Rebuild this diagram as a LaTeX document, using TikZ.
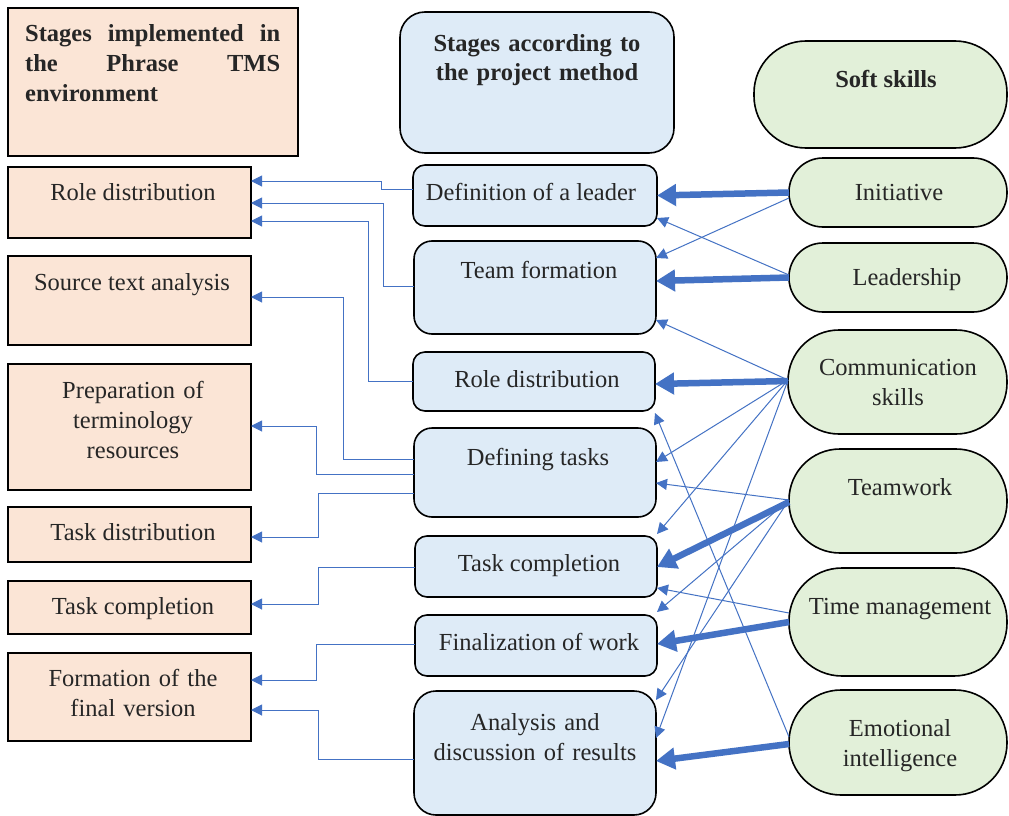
\documentclass[tikz,border=0pt]{standalone}
\usepackage{fontspec}
\setmainfont{Liberation Serif}
\usetikzlibrary{arrows.meta}
\definecolor{peach}{HTML}{FBE5D6}
\definecolor{lblue}{HTML}{DEEBF7}
\definecolor{lgreen}{HTML}{E2F0D9}
\definecolor{conn}{HTML}{4472C4}
\definecolor{txtc}{HTML}{262626}
\begin{document}
\begin{tikzpicture}[x=1pt,y=-1pt,
  boxbase/.style={draw=black, line width=1.6pt, rectangle, inner sep=0pt, outer sep=0pt},
  lbox/.style={boxbase, fill=peach},
  mbox/.style={boxbase, fill=lblue},
  rbox/.style={boxbase, fill=lgreen},
  lbl/.style={font=\fontsize{24.5}{30}\selectfont, text=txtc, inner sep=0pt, anchor=base, align=center},
  mlbl/.style={lbl, text width=250pt},
  hdr/.style={font=\fontsize{24.5}{29.5}\selectfont\bfseries, text=txtc, inner sep=0pt},
  thinarr/.style={draw=conn, line width=1pt, -{Triangle[length=11pt,width=11pt]}},
  thickarr/.style={draw=conn, line width=6.5pt, -{Triangle[length=19pt,width=21pt]}},
]
\useasboundingbox (0,0) rectangle (1009,816);
\fill[white] (0,0) rectangle (1009,816);

% left column
\node[lbox, minimum width=290pt, minimum height=148pt] (L0) at (153,82) {};
\node[lbox, minimum width=243pt, minimum height=71pt] (L1) at (129.5,202.5) {};
\node[lbox, minimum width=243pt, minimum height=89pt] (L2) at (129.5,300.5) {};
\node[lbox, minimum width=243pt, minimum height=126pt] (L3) at (129.5,427) {};
\node[lbox, minimum width=243pt, minimum height=55pt] (L4) at (129.5,534.5) {};
\node[lbox, minimum width=243pt, minimum height=53pt] (L5) at (129.5,607.5) {};
\node[lbox, minimum width=243pt, minimum height=88pt] (L6) at (129.5,697) {};

% middle column
\node[mbox, rounded corners=25pt, minimum width=274pt, minimum height=141pt] (M0) at (537,82.5) {};
\node[mbox, rounded corners=12pt, minimum width=244pt, minimum height=61pt] (M1) at (535,195.5) {};
\node[mbox, rounded corners=18pt, minimum width=242pt, minimum height=93pt] (M2) at (535,287.5) {};
\node[mbox, rounded corners=12pt, minimum width=242pt, minimum height=59pt] (M3) at (534,381.5) {};
\node[mbox, rounded corners=18pt, minimum width=242pt, minimum height=89pt] (M4) at (535,472.5) {};
\node[mbox, rounded corners=12pt, minimum width=242pt, minimum height=61pt] (M5) at (536,566.5) {};
\node[mbox, rounded corners=12pt, minimum width=242pt, minimum height=61pt] (M6) at (536,645.5) {};
\node[mbox, rounded corners=22pt, minimum width=242pt, minimum height=124pt] (M7) at (535,753) {};

% right column
\node[rbox, rounded corners=52pt, minimum width=253pt, minimum height=107pt] (R0) at (880.5,94.5) {};
\node[rbox, rounded corners=34pt, minimum width=218pt, minimum height=69pt] (R1) at (898,192.5) {};
\node[rbox, rounded corners=34pt, minimum width=218pt, minimum height=69pt] (R2) at (898,277.5) {};
\node[rbox, rounded corners=51pt, minimum width=219pt, minimum height=104pt] (R3) at (897.5,382) {};
\node[rbox, rounded corners=51pt, minimum width=218pt, minimum height=104pt] (R4) at (898,501) {};
\node[rbox, rounded corners=53pt, minimum width=218pt, minimum height=108pt] (R5) at (898,622) {};
\node[rbox, rounded corners=52pt, minimum width=218pt, minimum height=105pt] (R6) at (898,742.5) {};

% left connectors
\draw[thinarr] ([yshift=6.5pt]M1.west) -- ++(-32,0) |- ([yshift=21.5pt]L1.east);
\draw[thinarr] ([yshift=1.5pt]M2.west) -- ++(-31,0) |- ([yshift=-0.5pt]L1.east);
\draw[thinarr] ([yshift=0.5pt]M3.west) -- ++(-45,0) |- ([yshift=-18.5pt]L1.east);
\draw[thinarr] ([yshift=13.5pt]M4.west) -- ++(-71,0) |- ([yshift=3.5pt]L2.east);
\draw[thinarr] ([yshift=-1.5pt]M4.west) -- ++(-98,0) |- ([yshift=1pt]L3.east);
\draw[thinarr] ([yshift=-20.5pt]M4.west) -- ++(-96,0) |- ([yshift=-2.5pt]L4.east);
\draw[thinarr] ([yshift=-0.5pt]M5.west) -- ++(-97,0) |- ([yshift=3.5pt]L5.east);
\draw[thinarr] ([yshift=1.5pt]M6.west) -- ++(-99,0) |- ([yshift=17pt]L6.east);
\draw[thinarr] ([yshift=-6pt]M7.west) -- ++(-96,0) |- ([yshift=-13pt]L6.east);

% right connectors: thin
\draw[thinarr] ([yshift=-5.5pt]R1.west) -- ([yshift=29.5pt]M2.east);
\draw[thinarr] ([yshift=2.5pt]R2.west) -- ([yshift=-22.5pt]M1.east);
\draw[thinarr] ([yshift=2pt]R3.west) -- ([yshift=-32.5pt]M2.east);
\draw[thinarr] ([yshift=2pt]R3.west) -- ([yshift=10.5pt]M4.east);
\draw[thinarr] ([yshift=2pt]R3.west) -- ([yshift=32.5pt]M5.east);
\draw[thinarr] ([yshift=2pt]R3.west) -- ([yshift=15pt]M7.east);
\draw[thinarr] ([yshift=1pt]R4.west) -- ([yshift=-10.5pt]M4.east);
\draw[thinarr] ([yshift=1pt]R4.west) -- ([yshift=33.5pt]M6.east);
\draw[thinarr] ([yshift=1pt]R4.west) -- ([yshift=53pt]M7.east);
\draw[thinarr] ([yshift=9pt]R5.west) -- ([yshift=-21.5pt]M5.east);
\draw[thinarr] ([yshift=5.5pt]R6.west) -- ([yshift=-31.5pt]M3.east);

% right connectors: thick
\draw[thickarr] (R1.west) -- (M1.east);
\draw[thickarr] (R2.west) -- ([yshift=6.5pt]M2.east);
\draw[thickarr] ([yshift=1pt]R3.west) -- ([yshift=-2.5pt]M3.east);
\draw[thickarr] ([yshift=-1pt]R4.west) -- ([yshift=-0.5pt]M5.east);
\draw[thickarr] (R5.west) -- ([yshift=1.5pt]M6.east);
\draw[thickarr] ([yshift=-1.5pt]R6.west) -- ([yshift=-8pt]M7.east);

% texts
\node[hdr, text width=255pt, align=left, anchor=base west] (tL0) at (25,42)
  {\makebox[255pt][l]{Stages\hfill implemented\hfill in}\\\makebox[255pt][l]{the\hfill Phrase\hfill TMS}\\environment};
\node[lbl] (tL1) at (133,200) {Role distribution};
\node[lbl] (tL2) at (132,290) {Source text analysis};
\node[mlbl] (tL3) at (133,398) {Preparation of\\terminology\\resources};
\node[lbl] (tL4) at (133,540) {Task distribution};
\node[lbl] (tL5) at (133,614) {Task completion};
\node[mlbl] (tL6) at (133,686) {Formation of the\\final version};

\node[hdr, text width=270pt, align=center, anchor=base, font=\fontsize{24.5}{28.5}\selectfont\bfseries] (tM0) at (537,52) {Stages according to\\the project method};
\node[lbl] (tM1) at (531,200) {Definition of a leader};
\node[lbl] (tM2) at (539,278) {Team formation};
\node[lbl] (tM3) at (537,387) {Role distribution};
\node[lbl] (tM4) at (538,465) {Defining tasks};
\node[lbl] (tM5) at (539,571) {Task completion};
\node[lbl] (tM6) at (539,650) {Finalization of work};
\node[mlbl] (tM7) at (535,730) {Analysis and\\discussion of results};

\node[hdr, anchor=base] (tR0) at (886,87) {Soft skills};
\node[lbl] (tR1) at (899,200) {Initiative};
\node[lbl] (tR2) at (907,285) {Leadership};
\node[mlbl, text width=210pt] (tR3) at (898,375) {Communication\\skills};
\node[lbl] (tR4) at (900,495) {Teamwork};
\node[lbl] (tR5) at (900,614) {Time management};
\node[mlbl, text width=210pt] (tR6) at (900,736) {Emotional\\intelligence};
\end{tikzpicture}
\end{document}
